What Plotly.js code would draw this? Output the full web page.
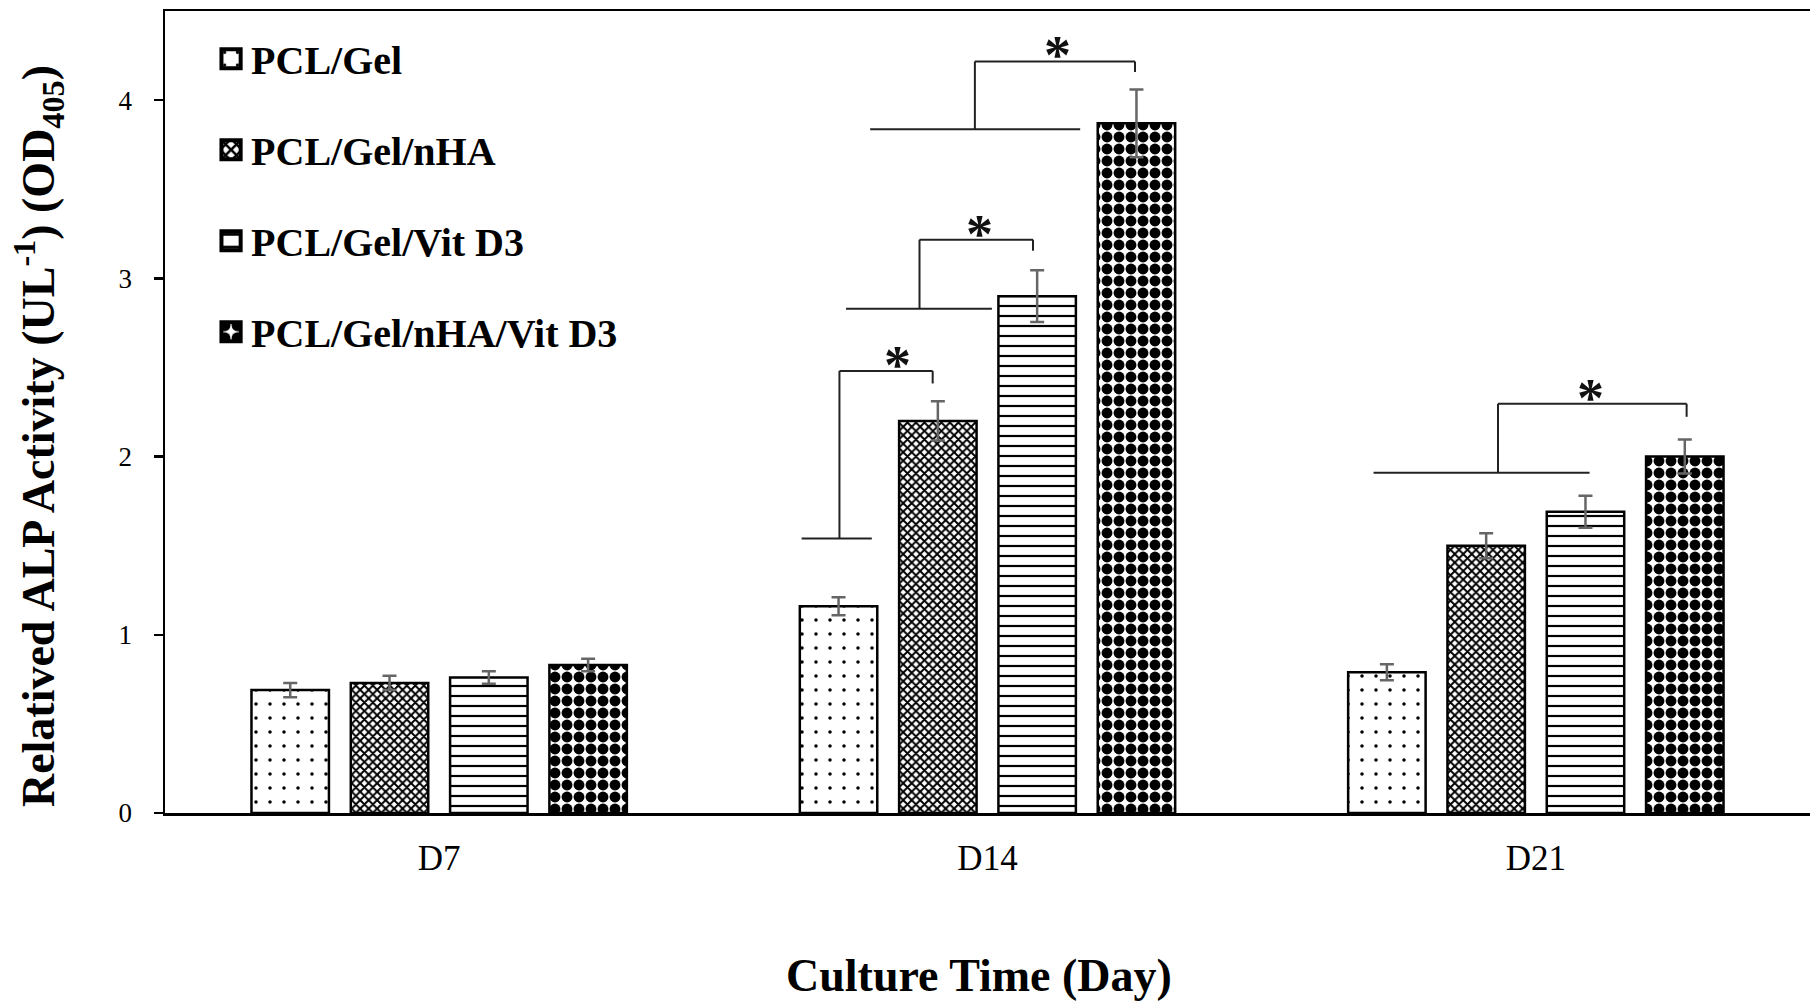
<!DOCTYPE html>
<html><head><meta charset="utf-8">
<script src="https://cdn.plot.ly/plotly-3.0.1.min.js"></script>
<style>html,body{margin:0;padding:0;background:#fff}#chart{width:1810px;height:1003px}</style>
</head><body><div id="chart"></div>
<script>
// ---- data ----
const days = ['D7', 'D14', 'D21'];
const seriesNames = ['PCL/Gel', 'PCL/Gel/nHA', 'PCL/Gel/Vit D3', 'PCL/Gel/nHA/Vit D3'];
const pclGel       = [0.69, 1.16, 0.79];
const pclGelNha    = [0.73, 2.20, 1.50];
const pclGelVit    = [0.76, 2.90, 1.69];
const pclGelNhaVit = [0.83, 3.87, 2.00];
const errPclGel       = [0.040, 0.050, 0.045];
const errPclGelNha    = [0.040, 0.110, 0.070];
const errPclGelVit    = [0.035, 0.145, 0.090];
const errPclGelNhaVit = [0.035, 0.190, 0.095];
const yTicks = [0, 1, 2, 3, 4];

// significance brackets (x offsets relative to the day category, y in data units)
const sigDay       = ['D14', 'D14', 'D14', 'D21'];
const sigBaseLeft  = [-0.339, -0.258, -0.214, -0.296];
const sigBaseRight = [-0.211,  0.008,  0.169,  0.098];
const sigStem      = [-0.270, -0.124, -0.023, -0.069];
const sigTip       = [-0.100,  0.083,  0.269,  0.275];
const sigStarX     = [-0.165, -0.014,  0.128,  0.099];
const sigBaseY     = [1.540, 2.830, 3.836, 1.909];
const sigTopY      = [2.480, 3.217, 4.217, 2.296];
const sigTipY      = [2.410, 3.155, 4.158, 2.223];
const sigLabel     = ['*', '*', '*', '*'];

// ---- styling ----
const FONT = '"Times New Roman", "Liberation Serif", serif';
const values = [pclGel, pclGelNha, pclGelVit, pclGelNhaVit];
const errors = [errPclGel, errPclGelNha, errPclGelVit, errPclGelNhaVit];
const patterns = [
  {shape: '.', size: 14, solidity: 0.05},
  {shape: 'x', size: 6, solidity: 0.55},
  {shape: '-', size: 10, solidity: 0.22},
  {shape: '.', size: 12, solidity: 0.65}
];

const traces = seriesNames.map((name, i) => ({
  type: 'bar',
  name: name,
  legendgroup: 'g' + i,
  x: days,
  y: values[i],
  marker: {
    color: '#ffffff',
    line: {color: '#000000', width: 2.5},
    pattern: Object.assign({fgcolor: '#000000', bgcolor: '#ffffff', fillmode: 'replace'}, patterns[i])
  },
  error_y: {type: 'data', array: errors[i], visible: true, color: '#666666', thickness: 2.5, width: 7},
  hoverinfo: 'skip'
}));

const shapes = [];
const annotations = [];
const lineStyle = {color: '#222222', width: 2};
sigDay.forEach((d, k) => {
  const c = days.indexOf(d);
  shapes.push({type: 'line', xref: 'x', yref: 'y', x0: c + sigBaseLeft[k], x1: c + sigBaseRight[k], y0: sigBaseY[k], y1: sigBaseY[k], line: lineStyle});
  shapes.push({type: 'line', xref: 'x', yref: 'y', x0: c + sigStem[k], x1: c + sigStem[k], y0: sigBaseY[k], y1: sigTopY[k], line: lineStyle});
  shapes.push({type: 'line', xref: 'x', yref: 'y', x0: c + sigStem[k], x1: c + sigTip[k], y0: sigTopY[k], y1: sigTopY[k], line: lineStyle});
  shapes.push({type: 'line', xref: 'x', yref: 'y', x0: c + sigTip[k], x1: c + sigTip[k], y0: sigTopY[k], y1: sigTipY[k], line: lineStyle});
  annotations.push({xref: 'x', yref: 'y', x: c + sigStarX[k], y: sigTopY[k], text: sigLabel[k],
    showarrow: false, xanchor: 'center', yanchor: 'middle', yshift: 6,
    font: {family: FONT, size: 54, weight: 'bold', color: '#111'}});
});

annotations.push({xref: 'paper', yref: 'paper', x: -0.0772, y: 0.470, textangle: -90,
  text: 'Relatived ALP Activity (UL<sup>-1</sup>) (OD<sub>405</sub>)', showarrow: false,
  xanchor: 'center', yanchor: 'middle', font: {family: FONT, size: 46, weight: 'bold', color: '#000'}});
annotations.push({xref: 'paper', yref: 'paper', x: 0.495, y: -0.203,
  text: 'Culture Time (Day)', showarrow: false,
  xanchor: 'center', yanchor: 'middle', font: {family: FONT, size: 46, weight: 'bold', color: '#000'}});

const layout = {
  width: 1810, height: 1003,
  margin: {l: 165, r: 0, t: 11, b: 190, pad: 0},
  paper_bgcolor: '#ffffff', plot_bgcolor: '#ffffff',
  barmode: 'group', bargap: 0.2756, bargroupgap: 0.22,
  font: {family: FONT, color: '#000'},
  xaxis: {type: 'category', range: [-0.5, 2.5], showline: true, linecolor: '#000', linewidth: 2.5, mirror: true,
    ticks: '', showgrid: false, zeroline: false, tickfont: {size: 35, family: FONT}, ticklabelstandoff: 12, fixedrange: true},
  yaxis: {range: [0, 4.5], tickvals: yTicks, showline: true, linecolor: '#000', linewidth: 2.5,
    ticks: 'outside', ticklen: 9, tickwidth: 2.5, tickcolor: '#000', showgrid: false, zeroline: false,
    tickfont: {size: 27, family: FONT}, ticklabelstandoff: 16, fixedrange: true},
  showlegend: true,
  legend: {x: 0.028, y: 0.981, xanchor: 'left', yanchor: 'top', bgcolor: 'rgba(0,0,0,0)', borderwidth: 0,
    font: {size: 40, family: FONT, weight: 'bold', color: '#000'}, tracegroupgap: 36, traceorder: 'grouped'},
  shapes: shapes,
  annotations: annotations
};

Plotly.newPlot('chart', traces, layout, {displayModeBar: false, staticPlot: true}).then(gd => {
  gd.querySelectorAll('.legend .legendpoints path').forEach(p => {
    const t = p.getAttribute('transform') || '';
    p.setAttribute('transform', t + ' scale(1.6)');
  });
});
</script>
</body></html>
